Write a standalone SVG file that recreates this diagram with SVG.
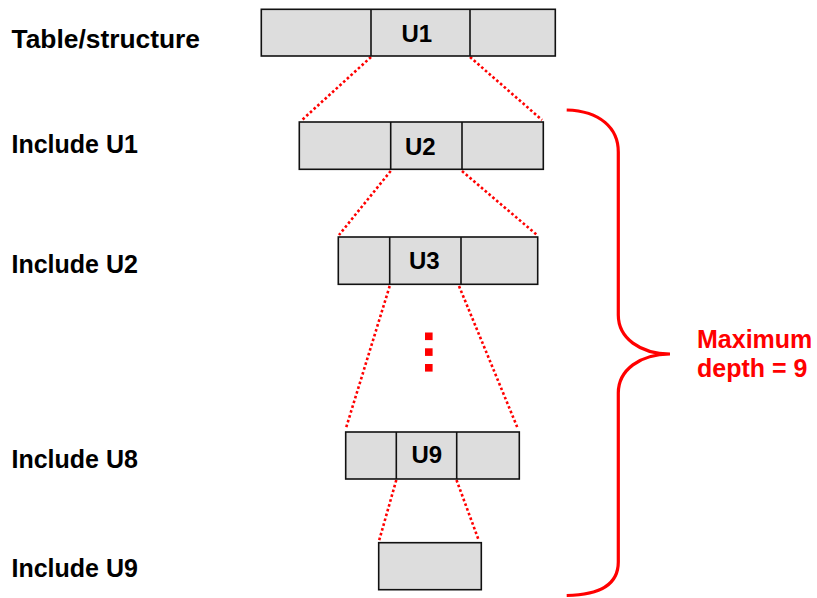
<svg xmlns="http://www.w3.org/2000/svg" width="817" height="598" viewBox="0 0 817 598">
<style>
.box{fill:#dddddd;stroke:#111;stroke-width:1.6}
.div{stroke:#111;stroke-width:1.6}
.lbl{font-family:"Liberation Sans",Arial,sans-serif;font-weight:bold;font-size:25px;fill:#000}
.bl{font-family:"Liberation Sans",Arial,sans-serif;font-weight:bold;font-size:24px;fill:#000}
.red{font-family:"Liberation Sans",Arial,sans-serif;font-weight:bold;font-size:25px;fill:#ff0000}
.dot{stroke:#ff0000;stroke-width:2.6;stroke-dasharray:2.6 2.4;fill:none}
</style>
<rect width="817" height="598" fill="#fff"/>
<g id="labels">
<text class="lbl" x="11.5" y="47.7" textLength="188.5" lengthAdjust="spacingAndGlyphs">Table/structure</text>
<text class="lbl" x="11.5" y="153.2">Include U1</text>
<text class="lbl" x="11.5" y="272.7">Include U2</text>
<text class="lbl" x="11.5" y="467.7">Include U8</text>
<text class="lbl" x="11.5" y="577.3">Include U9</text>
</g>
<g id="connectors">
<line class="dot" x1="371" y1="57" x2="302" y2="120"/>
<line class="dot" x1="470" y1="57" x2="542" y2="120"/>
<line class="dot" x1="390.7" y1="171" x2="339" y2="235"/>
<line class="dot" x1="462" y1="171" x2="537" y2="235"/>
<line class="dot" x1="389.7" y1="286" x2="346" y2="428"/>
<line class="dot" x1="459" y1="286" x2="518" y2="429"/>
<line class="dot" x1="396.3" y1="480" x2="379" y2="541"/>
<line class="dot" x1="456.5" y1="480" x2="479" y2="541"/>
</g>
<g id="node-U1">
<rect class="box" x="261.3" y="9.3" width="294" height="46.7"/>
<line class="div" x1="371" y1="9.3" x2="371" y2="56"/>
<line class="div" x1="470" y1="9.3" x2="470" y2="56"/>
<text class="bl" x="401.5" y="41.7">U1</text>
</g>
<g id="node-U2">
<rect class="box" x="299.3" y="122" width="244" height="47.3"/>
<line class="div" x1="390.7" y1="122" x2="390.7" y2="169.3"/>
<line class="div" x1="462" y1="122" x2="462" y2="169.3"/>
<text class="bl" x="405" y="155">U2</text>
</g>
<g id="node-U3">
<rect class="box" x="338.3" y="237" width="199.4" height="47.3"/>
<line class="div" x1="389.7" y1="237" x2="389.7" y2="284.3"/>
<line class="div" x1="461" y1="237" x2="461" y2="284.3"/>
<text class="bl" x="409" y="269.3">U3</text>
</g>
<g id="ellipsis">
<rect x="425" y="332.5" width="7.6" height="7.6" fill="#ff0000"/>
<rect x="425" y="348.3" width="7.6" height="7.6" fill="#ff0000"/>
<rect x="425" y="364" width="7.6" height="7.6" fill="#ff0000"/>
</g>
<g id="node-U9">
<rect class="box" x="345.7" y="432" width="173.6" height="47"/>
<line class="div" x1="396.3" y1="432" x2="396.3" y2="479"/>
<line class="div" x1="456.7" y1="432" x2="456.7" y2="479"/>
<text class="bl" x="411.5" y="463.3">U9</text>
</g>
<g id="node-leaf">
<rect class="box" x="378.7" y="542.7" width="102.6" height="47"/>
</g>
<g id="brace">
<path d="M566.7,110 C600,111 618.3,128 618.3,152 L618.3,315 C618.3,338 640,354 670,354 C640,354 618.3,370 618.3,393 L618.3,562 C618.3,584 600,595 566.7,595.5" fill="none" stroke="#ff0000" stroke-width="3.2"/>
<text class="red" x="697" y="347.7">Maximum</text>
<text class="red" x="697" y="376.5">depth = 9</text>
</g>
</svg>
